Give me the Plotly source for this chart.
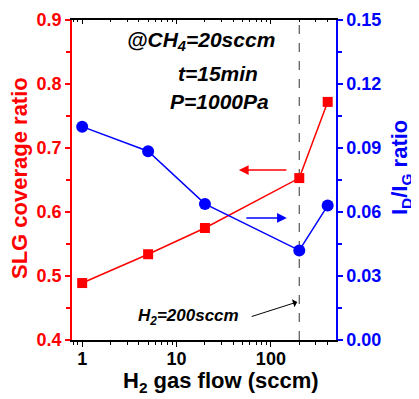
import numpy as np
import plotly.graph_objects as go

# ---- data ----
h2_flow = [1, 5, 20, 200, 400]
slg_coverage = [0.489, 0.534, 0.575, 0.653, 0.772]
id_ig_ratio = [0.100, 0.0885, 0.0638, 0.042, 0.063]
left_ticks = [0.4, 0.5, 0.6, 0.7, 0.8, 0.9]
left_tick_labels = ["0.4", "0.5", "0.6", "0.7", "0.8", "0.9"]
right_ticks = [0.00, 0.03, 0.06, 0.09, 0.12, 0.15]
right_tick_labels = ["0.00", "0.03", "0.06", "0.09", "0.12", "0.15"]
x_ticks = [1, 10, 100]
x_tick_labels = ["1", "10", "100"]
x_minor_ticks = [0.8, 0.9, 2, 3, 4, 5, 6, 7, 8, 9, 20, 30, 40, 50, 60, 70, 80, 90,
                 200, 300, 400]
marker_flow = 200

RED = "#ff0000"
BLUE = "#0000ff"
FONT = "Arial, Liberation Sans, sans-serif"


def b(t):
    return "<b>" + t + "</b>"


def bi(t):
    return "<b><i>" + t + "</i></b>"


fig = go.Figure()

fig.add_trace(go.Scatter(
    x=[marker_flow, marker_flow], y=[0.4, 0.9], mode="lines",
    line=dict(color="#555555", width=1.2, dash="dash"),
    hoverinfo="skip", showlegend=False, xaxis="x", yaxis="y"))

fig.add_trace(go.Scatter(
    x=h2_flow, y=slg_coverage, mode="lines+markers",
    line=dict(color=RED, width=1.5),
    marker=dict(symbol="square", size=10, color=RED),
    showlegend=False, xaxis="x", yaxis="y"))

fig.add_trace(go.Scatter(
    x=h2_flow, y=id_ig_ratio, mode="lines+markers",
    line=dict(color=BLUE, width=1.5),
    marker=dict(symbol="circle", size=12, color=BLUE),
    showlegend=False, xaxis="x", yaxis="y2"))

# invisible carrier so the top (inside-tick) axis is drawn
fig.add_trace(go.Scatter(
    x=h2_flow, y=slg_coverage, mode="lines", line=dict(width=0, color="rgba(0,0,0,0)"),
    hoverinfo="skip", showlegend=False, xaxis="x2", yaxis="y"))

xrange = [np.log10(0.78), np.log10(490)]

# page body has an 8px margin, so the figure is offset by (8, 8) in the window
ML, MR, MT, MB = 64, 83, 12, 59
FIG_W, FIG_H = 411, 391

fig.update_layout(
    width=FIG_W, height=FIG_H,
    margin=dict(l=ML, r=MR, t=MT, b=MB),
    plot_bgcolor="white", paper_bgcolor="white",
    font=dict(family=FONT),
    xaxis=dict(
        type="log", range=xrange, automargin=False,
        tickvals=x_ticks, ticktext=[b(t) for t in x_tick_labels],
        ticks="outside", ticklen=5, tickwidth=1.2, tickcolor="black",
        ticklabelstandoff=-3,
        minor=dict(tickvals=x_minor_ticks, ticks="outside", ticklen=3,
                   tickcolor="black", tickwidth=1, showgrid=False),
        showline=True, linecolor="black", linewidth=1.5, mirror=True,
        showgrid=False, zeroline=False,
        tickfont=dict(size=18, color="black", family=FONT),
    ),
    xaxis2=dict(
        type="log", range=xrange, overlaying="x", side="top", anchor="y",
        automargin=False,
        tickvals=x_ticks, showticklabels=False,
        ticks="inside", ticklen=4, tickcolor="black", tickwidth=1.2,
        minor=dict(tickvals=x_minor_ticks, ticks="inside", ticklen=2,
                   tickcolor="black", tickwidth=1),
        showline=False, showgrid=False, zeroline=False,
    ),
    yaxis=dict(
        range=[0.4, 0.9], tickvals=left_ticks, automargin=False,
        ticktext=[b(t) for t in left_tick_labels],
        ticks="outside", ticklen=5, tickwidth=1.5, tickcolor=RED,
        minor=dict(ticks="outside", dtick=0.05, ticklen=4, tickcolor=RED,
                   tickwidth=1.5, showgrid=False),
        showline=True, linecolor=RED, linewidth=1.5,
        showgrid=False, zeroline=False,
        tickfont=dict(size=18, color=RED, family=FONT),
    ),
    yaxis2=dict(
        range=[0, 0.15], tickvals=right_ticks, automargin=False,
        ticktext=[b(t) for t in right_tick_labels],
        overlaying="y", side="right", anchor="x",
        ticks="outside", ticklen=5, tickwidth=1.5, tickcolor=BLUE,
        minor=dict(ticks="outside", dtick=0.015, ticklen=4, tickcolor=BLUE,
                   tickwidth=1.5, showgrid=False),
        showline=True, linecolor=BLUE, linewidth=1.5,
        showgrid=False, zeroline=False,
        tickfont=dict(size=18, color=BLUE, family=FONT),
    ),
)

# helpers: window pixel -> paper coords (plot area spans x 72..336, y 20..340 in window)
PX0, PX1, PY0, PY1 = 72, 336, 20, 340


def px(xw):
    return (xw - PX0) / (PX1 - PX0)


def py(yw):
    return (PY1 - yw) / (PY1 - PY0)


# axis titles
fig.add_annotation(text=b("H<sub>2</sub> gas flow (sccm)"), xref="paper", yref="paper",
                   x=px(221), y=py(382), xanchor="center", yanchor="middle",
                   showarrow=False, borderpad=0,
                   font=dict(size=22, color="black", family=FONT))
fig.add_annotation(text=b("SLG coverage ratio"), xref="paper", yref="paper",
                   x=px(19), y=py(178), xanchor="center", yanchor="middle",
                   textangle=-90, showarrow=False, borderpad=0,
                   font=dict(size=22, color=RED, family=FONT))
fig.add_annotation(text=b("I<sub>D</sub>/I<sub>G</sub> ratio"), xref="paper", yref="paper",
                   x=px(401), y=py(168), xanchor="center", yanchor="middle",
                   textangle=-90, showarrow=False, borderpad=0,
                   font=dict(size=22, color=BLUE, family=FONT))

# condition labels
cond_font = dict(size=21, color="black", family=FONT)
fig.add_annotation(text=bi("@CH<sub>4</sub>=20sccm"), xref="paper", yref="paper",
                   x=px(277), y=py(41), xanchor="right", yanchor="middle",
                   showarrow=False, font=cond_font)
fig.add_annotation(text=bi("t=15min"), xref="paper", yref="paper",
                   x=px(260), y=py(73), xanchor="right", yanchor="middle",
                   showarrow=False, font=cond_font)
fig.add_annotation(text=bi("P=1000Pa"), xref="paper", yref="paper",
                   x=px(271), y=py(101), xanchor="right", yanchor="middle",
                   showarrow=False, font=cond_font)

# series arrows
red_arrow_head = (45.8, 0.6656)
blue_arrow_head = (147.6, 0.0572)
fig.add_annotation(x=np.log10(red_arrow_head[0]), y=red_arrow_head[1], xref="x", yref="y",
                   ax=49, ay=0, showarrow=True, arrowhead=2, arrowsize=1.3,
                   arrowwidth=1.5, arrowcolor=RED, text="")
fig.add_annotation(x=np.log10(blue_arrow_head[0]), y=blue_arrow_head[1], xref="x", yref="y2",
                   ax=-42, ay=0, showarrow=True, arrowhead=2, arrowsize=1.3,
                   arrowwidth=1.5, arrowcolor=BLUE, text="")

# H2=200sccm pointer
fig.add_annotation(x=np.log10(190), y=0.4 + (340 - 302) / 640, xref="x", yref="y",
                   ax=-47, ay=15, showarrow=True, arrowhead=1, arrowsize=1.4, arrowwidth=1,
                   arrowcolor="black", text="", standoff=0)
fig.add_annotation(text=bi("H<sub>2</sub>=200sccm"), xref="paper", yref="paper",
                   x=px(188), y=py(317), xanchor="center", yanchor="middle",
                   showarrow=False,
                   font=dict(size=17, color="black", family=FONT))

fig.write_html("out.html")
